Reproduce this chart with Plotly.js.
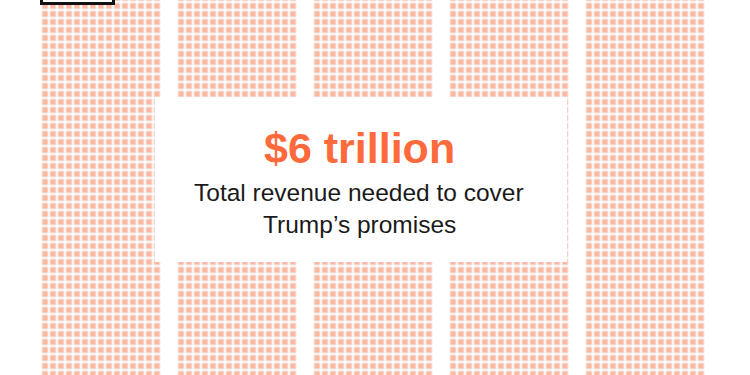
<!DOCTYPE html>
<html>
<head>
<meta charset="utf-8">
<script src="https://cdn.plot.ly/plotly-3.0.1.min.js"></script>
<style>html,body{margin:0;padding:0;background:#fff;}#chart{width:750px;height:375px;}</style>
</head>
<body>
<div id="chart"></div>
<script>
// Waffle data: each block = $1 trillion, shown as a grid of squares
const blockLabels = ["$1T", "$2T", "$3T", "$4T", "$5T"];
const blockValues = [1, 1, 1, 1, 1];          // trillions per block
const squaresAcross = 15;                      // columns of squares in a block
const squaresDownVisible = 48;                 // rows visible in the frame
const headline = "$6 trillion";
const subLine1 = "Total revenue needed to cover";
const subLine2 = "Trump’s promises";

// layout geometry (pixel-like axis units)
const pitch = 8, blockGap = 16, x0 = 45, y0 = -2;

const xs = [], ys = [];
blockValues.forEach((v, b) => {
  const bx = x0 + b * (squaresAcross * pitch + blockGap);
  for (let r = 0; r < squaresDownVisible; r++) {
    for (let c = 0; c < squaresAcross; c++) {
      xs.push(bx + c * pitch);
      ys.push(y0 + r * pitch);
    }
  }
});

const trace = {
  type: "scatter", mode: "markers", x: xs, y: ys, hoverinfo: "skip",
  marker: {symbol: "square", size: 6, color: "#ffb7a2", line: {color: "#efe8e7", width: 1}}
};

const layout = {
  width: 750, height: 375,
  margin: {l: 0, r: 0, t: 0, b: 0},
  paper_bgcolor: "#ffffff", plot_bgcolor: "#ffffff",
  showlegend: false,
  xaxis: {range: [0, 750], visible: false, fixedrange: true},
  yaxis: {range: [375, 0], visible: false, fixedrange: true},
  shapes: [
    {type: "rect", x0: 155, x1: 567, y0: 97, y1: 262, fillcolor: "#ffffff", line: {width: 0}, layer: "above"},
    {type: "rect", x0: 41.5, x1: 113.5, y0: -10, y1: 3.5, fillcolor: "#ffffff", line: {color: "#111111", width: 3}, layer: "above"}
  ],
  annotations: [
    {x: 359, y: 148, xref: "x", yref: "y", text: "<b>" + headline + "</b>", showarrow: false,
     font: {family: "Liberation Sans, Arial, sans-serif", size: 43, color: "#ff6a3d"}},
    {x: 359, y: 192, xref: "x", yref: "y", text: subLine1, showarrow: false,
     font: {family: "Liberation Sans, Arial, sans-serif", size: 24.5, color: "#1a1a1a"}},
    {x: 359, y: 224, xref: "x", yref: "y", text: subLine2, showarrow: false,
     font: {family: "Liberation Sans, Arial, sans-serif", size: 24.5, color: "#1a1a1a"}}
  ]
};

Plotly.newPlot("chart", [trace], layout, {displayModeBar: false, staticPlot: true});
</script>
</body>
</html>
